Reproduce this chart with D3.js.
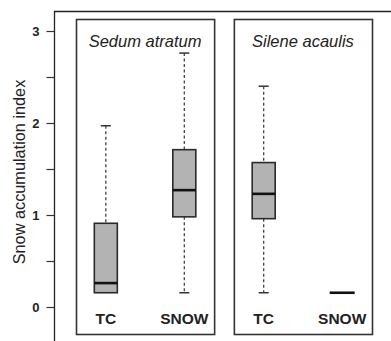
<!DOCTYPE html>
<html><head><meta charset="utf-8">
<script src="https://cdn.jsdelivr.net/npm/d3@7"></script>
<style>html,body{margin:0;padding:0;background:#fff;}svg{display:block;font-family:"Liberation Sans",Arial,sans-serif;}</style>
</head><body>
<script>
const species = ["Sedum atratum", "Silene acaulis"];
const groups = ["TC", "SNOW"];
// per species, per group
const whiskLow = [[0.155, 0.155], [0.155, 0.155]];
const q1       = [[0.155, 0.98], [0.96, 0.155]];
const medians  = [[0.26, 1.27], [1.23, 0.155]];
const q3       = [[0.91, 1.71], [1.57, 0.155]];
const whiskHigh= [[1.97, 2.76], [2.40, 0.155]];
const yTicks = [0, 0.5, 1, 1.5, 2, 2.5, 3];
const yLabel = "Snow accumulation index";

(function () {
const W = 391, H = 341;
const svg = d3.select("body").append("svg").attr("width", W).attr("height", H);
const y = d3.scaleLinear().domain([0, 3]).range([307, 31]);
const axisX = 54.5;

svg.append("path").attr("d", `M${axisX},${H} V11.5 H${W}`)
  .attr("fill", "none").attr("stroke", "#222").attr("stroke-width", 1.3);

const ax = svg.append("g").attr("transform", `translate(${axisX},0)`)
  .call(d3.axisLeft(y).tickValues(yTicks).tickSize(8).tickPadding(7)
    .tickFormat(d => Number.isInteger(d) ? d3.format("d")(d) : ""));
ax.select(".domain").remove();
ax.selectAll(".tick line").attr("stroke", "#333").attr("stroke-width", 1.2);
ax.selectAll(".tick text").attr("font-size", 13).attr("font-weight", "bold")
  .attr("fill", "#222").attr("font-family", "Liberation Sans, Arial, sans-serif");

svg.append("text").attr("transform", `translate(24.5,172) rotate(-90)`)
  .attr("text-anchor", "middle").attr("font-size", 16.3).attr("fill", "#222")
  .text(yLabel);

const panelX = d3.scaleBand().domain(species).range([76, 372]).paddingInner(0.125);
const pTop = 19, pBottom = 334;

species.forEach((sp, i) => {
  const x0 = panelX(sp), pw = panelX.bandwidth();
  const g = svg.append("g");
  g.append("rect").attr("x", x0 + 0.5).attr("y", pTop + 0.5).attr("width", pw).attr("height", pBottom - pTop)
    .attr("fill", "none").attr("stroke", "#333").attr("stroke-width", 1.6);
  g.append("text").attr("x", x0 + pw / 2).attr("y", 47).attr("text-anchor", "middle")
    .attr("font-size", 16.5).attr("font-style", "italic").attr("fill", "#222").text(sp);
  const gx = d3.scalePoint().domain(groups).range([x0, x0 + pw]).padding(0.38);
  groups.forEach((gr, j) => {
    const cx = gx(gr);
    const bw = 23, cw = 10;
    const lo = whiskLow[i][j], a = q1[i][j], m = medians[i][j], b = q3[i][j], hi = whiskHigh[i][j];
    if (hi > b) {
      g.append("line").attr("x1", cx).attr("x2", cx).attr("y1", y(hi)).attr("y2", y(b))
        .attr("stroke", "#444").attr("stroke-width", 1.3).attr("stroke-dasharray", "3,2.5");
      g.append("line").attr("x1", cx - cw / 2).attr("x2", cx + cw / 2).attr("y1", y(hi)).attr("y2", y(hi))
        .attr("stroke", "#333").attr("stroke-width", 1.5);
    }
    if (lo < a) {
      g.append("line").attr("x1", cx).attr("x2", cx).attr("y1", y(a)).attr("y2", y(lo))
        .attr("stroke", "#444").attr("stroke-width", 1.3).attr("stroke-dasharray", "3,2.5");
      g.append("line").attr("x1", cx - cw / 2).attr("x2", cx + cw / 2).attr("y1", y(lo)).attr("y2", y(lo))
        .attr("stroke", "#333").attr("stroke-width", 1.5);
    }
    if (b > a) {
      g.append("rect").attr("x", cx - bw / 2).attr("y", y(b)).attr("width", bw).attr("height", y(a) - y(b))
        .attr("fill", "#b3b3b3").attr("stroke", "#2a2a2a").attr("stroke-width", 1.6);
    }
    g.append("line").attr("x1", cx - bw / 2 - (b > a ? 0 : 1)).attr("x2", cx + bw / 2 + (b > a ? 0 : 1))
      .attr("y1", y(m)).attr("y2", y(m)).attr("stroke", "#111").attr("stroke-width", 2.6);
    g.append("text").attr("x", cx).attr("y", 324).attr("text-anchor", "middle")
      .attr("font-size", 15.5).attr("font-weight", "bold").attr("fill", "#222").text(gr);
  });
});
})();
</script>
</body></html>
